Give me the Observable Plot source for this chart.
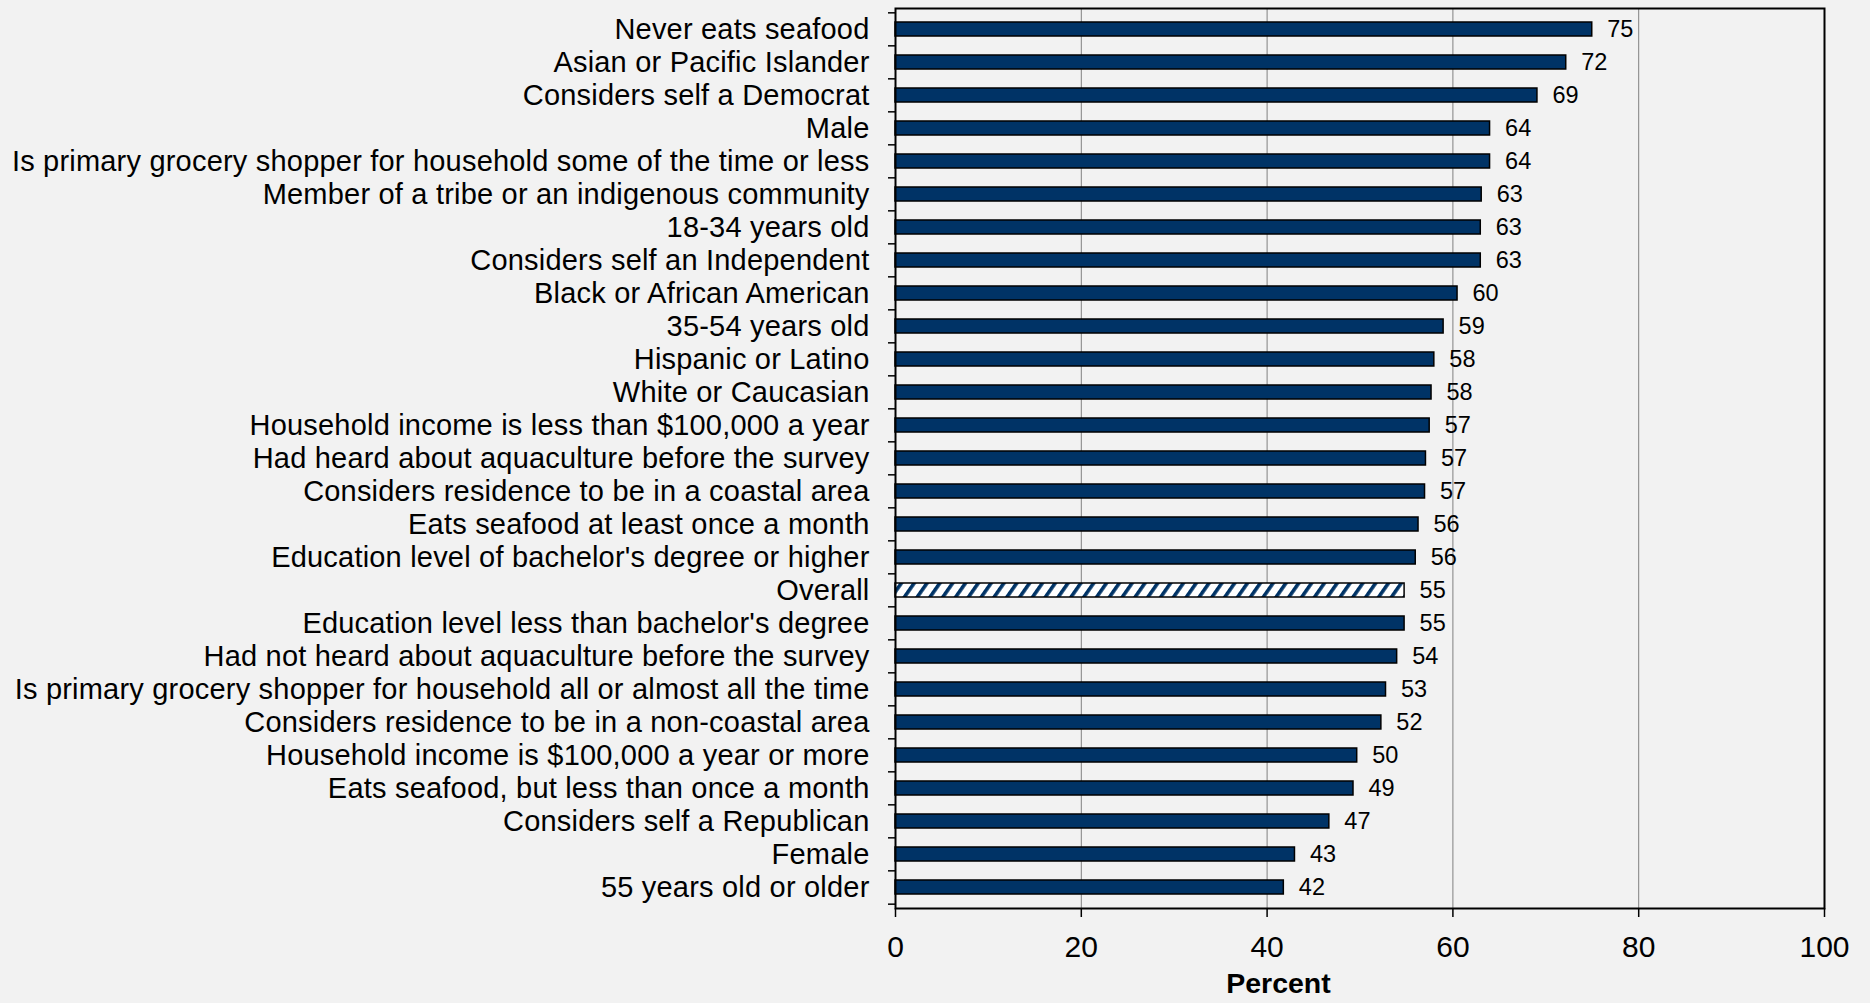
<!DOCTYPE html>
<html><head><meta charset="utf-8">
<script src="https://cdn.jsdelivr.net/npm/d3@7"></script>
<script src="https://cdn.jsdelivr.net/npm/@observablehq/plot@0.6"></script>
<style>
html,body{margin:0;padding:0;background:#f2f2f2;}
#chart svg{display:block;}
g[aria-label="y-axis tick label"] text{letter-spacing:0.2px;}
</style></head><body><div id="chart"></div>
<script>
const categories = [
  "Never eats seafood",
  "Asian or Pacific Islander",
  "Considers self a Democrat",
  "Male",
  "Is primary grocery shopper for household some of the time or less",
  "Member of a tribe or an indigenous community",
  "18-34 years old",
  "Considers self an Independent",
  "Black or African American",
  "35-54 years old",
  "Hispanic or Latino",
  "White or Caucasian",
  "Household income is less than $100,000 a year",
  "Had heard about aquaculture before the survey",
  "Considers residence to be in a coastal area",
  "Eats seafood at least once a month",
  "Education level of bachelor's degree or higher",
  "Overall",
  "Education level less than bachelor's degree",
  "Had not heard about aquaculture before the survey",
  "Is primary grocery shopper for household all or almost all the time",
  "Considers residence to be in a non-coastal area",
  "Household income is $100,000 a year or more",
  "Eats seafood, but less than once a month",
  "Considers self a Republican",
  "Female",
  "55 years old or older"
];
const values = [75.0, 72.2, 69.1, 64.0, 64.0, 63.1, 63.0, 63.0, 60.5, 59.0, 58.0, 57.7, 57.5, 57.1, 57.0, 56.3, 56.0, 54.8, 54.8, 54.0, 52.8, 52.3, 49.7, 49.3, 46.7, 43.0, 41.8];
const valueLabels = [75, 72, 69, 64, 64, 63, 63, 63, 60, 59, 58, 58, 57, 57, 57, 56, 56, 55, 55, 54, 53, 52, 50, 49, 47, 43, 42];
const xTicks = [0, 20, 40, 60, 80, 100];
const gridTicks = [20, 40, 60, 80];
const axisTitle = "Percent";
const highlight = "Overall";

const rows = categories.map((c, i) => ({category: c, value: values[i], label: valueLabels[i]}));
const W = 1870, H = 1003, mt = 8, mb = 95, ml = 895, mr = 46;
const step = (H - mt - mb) / categories.length;
const navy = "#003366";

const svg = Plot.plot({
  width: W, height: H,
  marginTop: mt, marginBottom: mb, marginLeft: ml, marginRight: mr,
  style: {background: "#f2f2f2", fontFamily: "'Liberation Sans', Arial, sans-serif", color: "#000"},
  x: {domain: [0, 100]},
  y: {domain: categories, paddingInner: 0.58, paddingOuter: 0.29},
  marks: [
    Plot.ruleX(gridTicks, {stroke: "#808080", strokeWidth: 1}),
    Plot.barX(rows.filter(d => d.category !== highlight), {x: "value", y: "category", fill: navy, stroke: "#000", strokeWidth: 1.5}),
    Plot.barX(rows.filter(d => d.category === highlight), {x: "value", y: "category", fill: "url(#hatch)", stroke: "#000", strokeWidth: 1.5}),
    Plot.text(rows, {x: "value", y: "category", text: d => String(d.label), dx: 15, textAnchor: "start", fontSize: 23.5, fill: "#000"}),
    Plot.frame({stroke: "#000", strokeWidth: 2}),
    Plot.axisY({tickSize: 0, tickPadding: 26, fontSize: 29, label: null}),
    Plot.axisY({tickSize: 7, tickFormat: () => "", dy: -step / 2, label: null, stroke: "#000", strokeWidth: 1.5}),
    Plot.axisY([categories[categories.length - 1]], {tickSize: 7, tickFormat: () => "", dy: step / 2, label: null, stroke: "#000", strokeWidth: 1.5}),
    Plot.axisX({ticks: xTicks, tickSize: 9, tickPadding: 18, fontSize: 30, label: null, stroke: "#000", strokeWidth: 1.5}),
    Plot.text([axisTitle], {frameAnchor: "bottom-left", dx: 383, dy: 75, fontSize: 28.5, fontWeight: "bold", textAnchor: "middle", lineAnchor: "middle", fill: "#000"})
  ]
});

const ns = "http://www.w3.org/2000/svg";
const defs = document.createElementNS(ns, "defs");
defs.innerHTML = `<pattern id="hatch" patternUnits="userSpaceOnUse" width="10.5" height="10.5" patternTransform="rotate(35)"><rect width="10.5" height="10.5" fill="#fff"/><rect width="3.6" height="10.5" fill="${navy}"/></pattern>`;
svg.insertBefore(defs, svg.firstChild);
document.getElementById("chart").appendChild(svg);
</script>
</body></html>
